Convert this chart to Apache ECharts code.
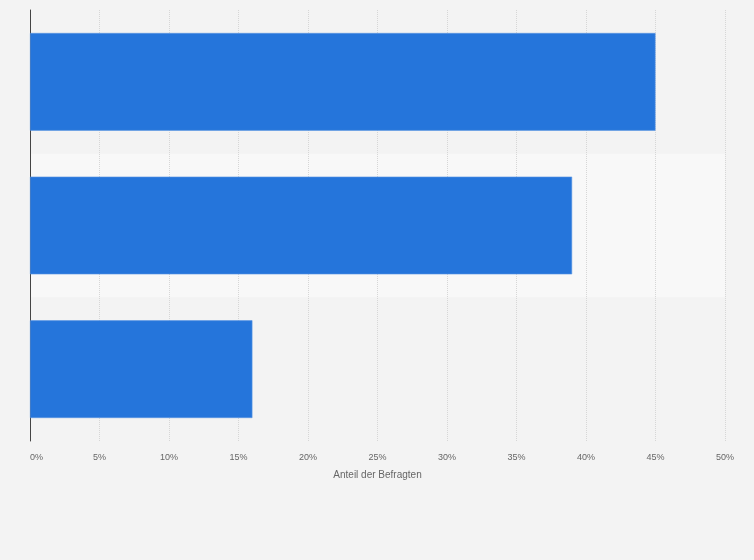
<!DOCTYPE html>
<html lang="de">
<head>
  <meta charset="utf-8">
  <title>Anteil der Befragten</title>
  <style>
    html, body { margin: 0; padding: 0; background: #f3f3f3; }
    #chart-box { width: 754px; height: 560px; }
  </style>
</head>
<body>
  <div id="chart-box"></div>
  <script src="https://cdn.jsdelivr.net/npm/echarts@6/dist/echarts.min.js"></script>
  <script>
    // Werte
    var categories = ['Antwort 1', 'Antwort 2', 'Antwort 3'];
    var shares = [45, 39, 16];
    var xTicks = [0, 5, 10, 15, 20, 25, 30, 35, 40, 45, 50];

    var chart = echarts.init(document.getElementById('chart-box'));

    chart.setOption({
      backgroundColor: '#f3f3f3',
      animation: false,
      grid: { left: 30, right: 29, top: 10, bottom: 119 },
      xAxis: {
        type: 'value',
        min: xTicks[0],
        max: xTicks[xTicks.length - 1],
        interval: 5,
        name: 'Anteil der Befragten',
        nameLocation: 'middle',
        nameGap: 29,
        nameTextStyle: { color: '#666', fontSize: 10, fontFamily: 'Liberation Sans' },
        axisLine: { show: false },
        axisTick: { show: false },
        axisLabel: {
          color: '#666', fontSize: 9, fontFamily: 'Liberation Sans', margin: 12,
          alignMinLabel: 'left',
          formatter: function (v) { return v + '%'; }
        },
        splitLine: { show: true, lineStyle: { color: '#d6d6d6', type: 'dotted', width: 1 } }
      },
      yAxis: {
        type: 'category',
        data: categories,
        inverse: true,
        axisLine: { show: true, lineStyle: { color: '#444', width: 1 } },
        axisTick: { show: false },
        axisLabel: { show: false },
        splitArea: { show: true, areaStyle: { color: ['rgba(0,0,0,0)', '#f8f8f8'] } }
      },
      series: [{
        type: 'bar',
        data: shares,
        barWidth: '68%',
        itemStyle: { color: '#2575db', borderColor: '#5a95e3', borderWidth: 0.6 }
      }]
    });
  </script>
</body>
</html>
